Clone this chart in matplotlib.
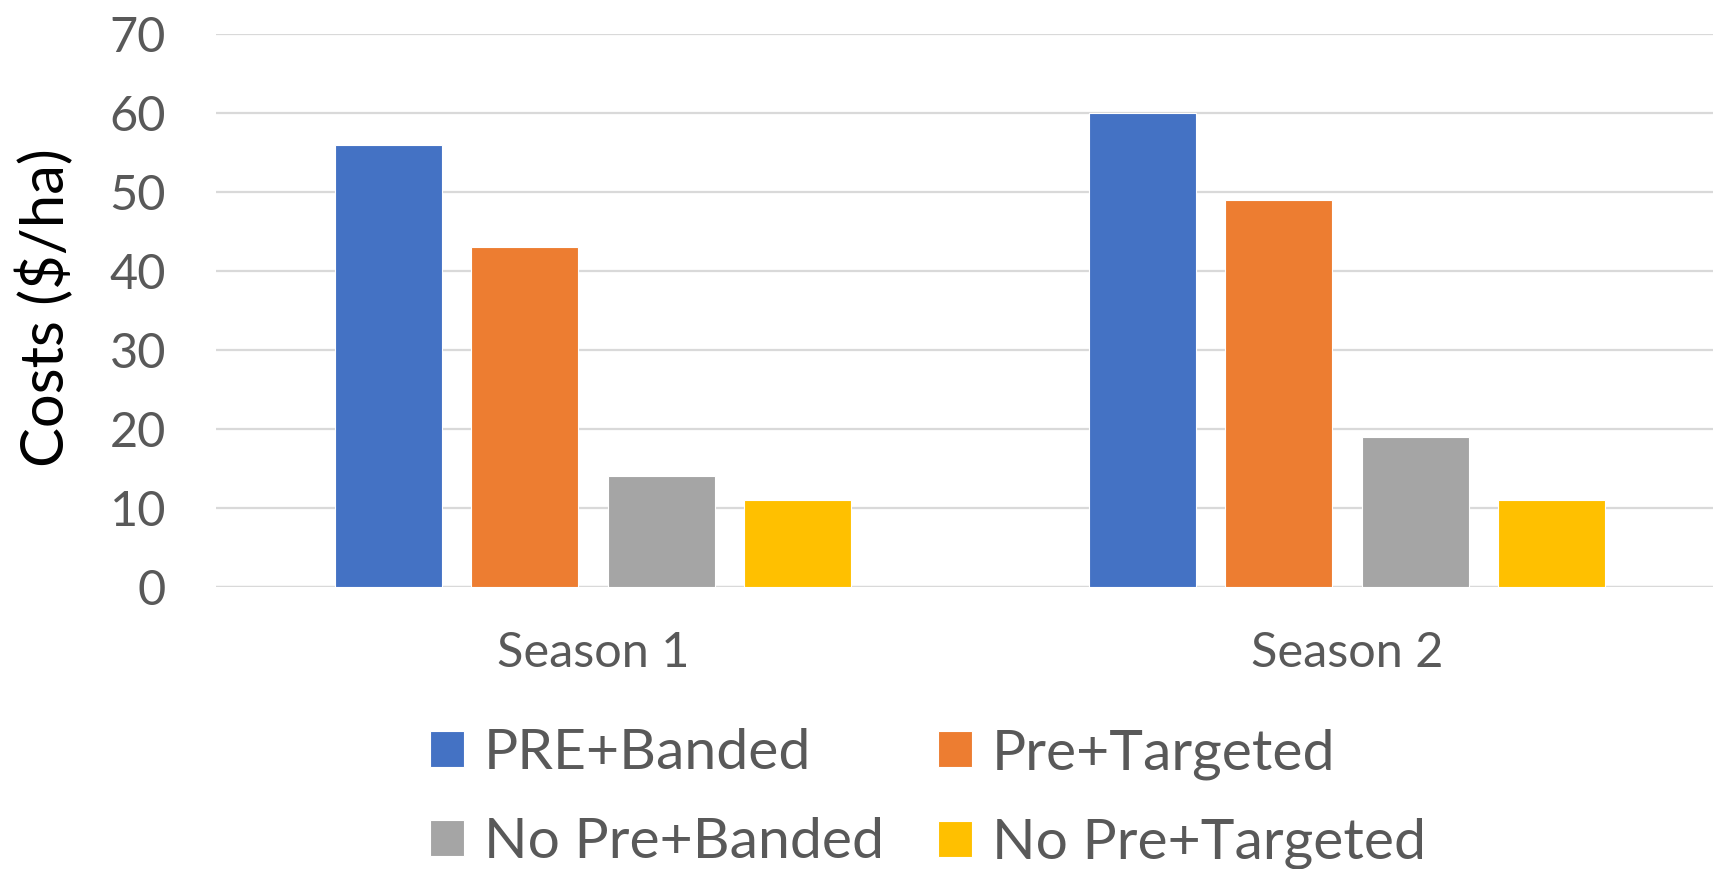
import matplotlib
matplotlib.use("Agg")
import matplotlib.pyplot as plt
import numpy as np

plt.rcParams['font.family'] = ['Lato', 'DejaVu Sans']

seasons = ["Season 1", "Season 2"]
series_names = ["PRE+Banded", "Pre+Targeted", "No Pre+Banded", "No Pre+Targeted"]
pre_banded = [56, 60]
pre_targeted = [43, 49]
no_pre_banded = [14, 19]
no_pre_targeted = [11, 11]
y_ticks = [0, 10, 20, 30, 40, 50, 60, 70]

series_values = [pre_banded, pre_targeted, no_pre_banded, no_pre_targeted]
colors = ["#4472C4", "#ED7D31", "#A5A5A5", "#FFC000"]

W, H, DPI = 1713, 869, 100
fig = plt.figure(figsize=(W / DPI, H / DPI), dpi=DPI)
left_px, right_px, top_px, bottom_px = 216, 1724, 34, 587
ax = fig.add_axes([left_px / W, 1 - bottom_px / H,
                   (right_px - left_px) / W, (bottom_px - top_px) / H])

x = np.arange(len(seasons))
step = 0.181
width = 0.142
handles = []
for i, (vals, col) in enumerate(zip(series_values, colors)):
    b = ax.bar(x + (i - 1.5) * step, vals, width, color=col,
               edgecolor="white", linewidth=0.8, zorder=3)
    handles.append(b)

ax.set_xlim(-0.5, 1.5)
ax.set_ylim(0, 70)
ax.set_yticks(y_ticks)
ax.set_xticks(x)
ax.set_xticklabels(seasons)
ax.yaxis.grid(True, color="#D9D9D9", linewidth=1.6, zorder=0)
ax.set_axisbelow(True)
for s in ax.spines.values():
    s.set_visible(False)
ax.axhline(0, color="#D9D9D9", linewidth=1.6, zorder=2)
ax.tick_params(axis="y", length=0, pad=36, labelsize=35, labelcolor="#595959")
ax.tick_params(axis="x", length=0, pad=32, labelsize=35, labelcolor="#595959")

fig.text(45 / W, 1 - 308 / H, "Costs ($/ha)", rotation=90, ha="center",
         va="center", fontsize=43, color="black")

# legend rows: banded/targeted pairs side by side
order = [0, 2, 1, 3]
fig.legend([handles[i] for i in order], [series_names[i] for i in order],
           loc="upper left", ncol=2,
           bbox_to_anchor=(430 / W, 1 - 728 / H), frameon=False,
           fontsize=41, labelcolor="#595959", handlelength=0.6,
           handleheight=0.6, handletextpad=0.35, columnspacing=0.94,
           labelspacing=0.67, borderpad=0, borderaxespad=0)

fig.savefig("out.png", dpi=DPI)
